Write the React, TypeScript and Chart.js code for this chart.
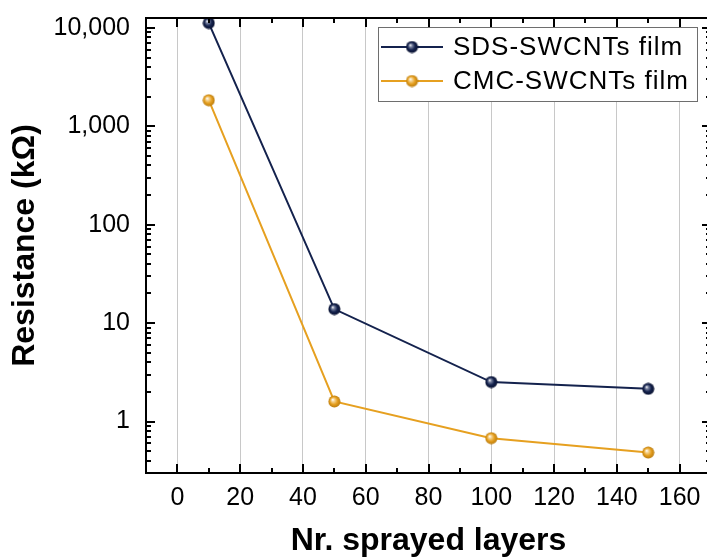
import React, { useEffect, useRef } from "react";
import { Chart, registerables } from "chart.js";

Chart.register(...registerables);

const layers = [10, 50, 100, 150];
const sdsResistance = [11200, 13.9, 2.52, 2.15];
const cmcResistance = [1840, 1.6, 0.678, 0.484];
const seriesLabels = ["SDS-SWCNTs film", "CMC-SWCNTs film"];
const seriesColors = ["#14224d", "#e6a020"];
const xTickValues = [0, 20, 40, 60, 80, 100, 120, 140, 160];
const xMinorValues = [10, 30, 50, 70, 90, 110, 130, 150];
const yTickValues = [1, 10, 100, 1000, 10000];
const xTitle = "Nr. sprayed layers";
const yTitle = "Resistance (k\u03A9)";

const FONT = "'Liberation Sans', Arial, sans-serif";

function makeSphere(base: string, light: string, dark: string): HTMLCanvasElement {
  const size = 13;
  const c = document.createElement("canvas");
  c.width = size;
  c.height = size;
  const ctx = c.getContext("2d")!;
  const cx = size / 2;
  const cy = size / 2;
  const g = ctx.createRadialGradient(cx - 1.7, cy - 1.9, 0.2, cx, cy, 6.1);
  g.addColorStop(0, "#ffffff");
  g.addColorStop(0.22, light);
  g.addColorStop(0.6, base);
  g.addColorStop(1, dark);
  ctx.fillStyle = g;
  ctx.beginPath();
  ctx.arc(cx, cy, 6, 0, Math.PI * 2);
  ctx.fill();
  return c;
}

export default function App() {
  const ref = useRef<HTMLCanvasElement | null>(null);

  useEffect(() => {
    const canvas = ref.current!;
    const spheres = [
      makeSphere("#14224d", "#7d86a3", "#0a1230"),
      makeSphere("#e6a020", "#f6d79a", "#b97a0c"),
    ];

    const framePlugin = {
      id: "frame",
      afterDraw(chart: any) {
        const { ctx, chartArea: a, scales } = chart;
        const xs = scales.x;
        const ys = scales.y;
        ctx.save();
        ctx.strokeStyle = "#000";
        ctx.lineWidth = 2;
        ctx.lineCap = "butt";
        ctx.strokeRect(a.left, a.top, a.right - a.left, a.bottom - a.top);
        const tickLine = (x1: number, y1: number, x2: number, y2: number) => {
          ctx.beginPath();
          ctx.moveTo(x1, y1);
          ctx.lineTo(x2, y2);
          ctx.stroke();
        };
        const major = 9;
        const minor = 5;
        xTickValues.forEach((v) => {
          const px = Math.round(xs.getPixelForValue(v));
          tickLine(px, a.bottom, px, a.bottom - major);
          tickLine(px, a.top, px, a.top + major);
        });
        xMinorValues.forEach((v) => {
          const px = Math.round(xs.getPixelForValue(v));
          tickLine(px, a.bottom, px, a.bottom - minor);
          tickLine(px, a.top, px, a.top + minor);
        });
        yTickValues.forEach((v) => {
          const py = Math.round(ys.getPixelForValue(v));
          tickLine(a.left, py, a.left + major, py);
          tickLine(a.right, py, a.right - major, py);
        });
        for (let d = -1; d <= 4; d++) {
          for (let k = 2; k <= 9; k++) {
            const v = k * Math.pow(10, d);
            if (v <= ys.min || v >= ys.max) continue;
            const py = Math.round(ys.getPixelForValue(v));
            tickLine(a.left, py, a.left + minor, py);
            tickLine(a.right, py, a.right - minor, py);
          }
        }

        // legend
        const lx = 378, ly = 27, lw = 319, lh = 74;
        ctx.fillStyle = "#ffffff";
        ctx.fillRect(lx, ly, lw, lh);
        ctx.strokeStyle = "#6e6e6e";
        ctx.lineWidth = 1;
        ctx.strokeRect(lx + 0.5, ly + 0.5, lw, lh);
        const rows = [47, 81];
        chart.data.datasets.forEach((ds: any, i: number) => {
          const ry = rows[i];
          ctx.strokeStyle = ds.borderColor;
          ctx.lineWidth = 2;
          tickLine(381, ry, 443, ry);
          ctx.drawImage(spheres[i], 412 - 6.5, ry - 6.5);
          ctx.fillStyle = "#000";
          ctx.font = `26px ${FONT}`;
          (ctx as any).letterSpacing = "1px";
          ctx.textBaseline = "middle";
          ctx.textAlign = "left";
          ctx.fillText(ds.label, 453, ry + 1);
          (ctx as any).letterSpacing = "0px";
        });
        ctx.restore();
      },
    };

    const chart = new Chart(canvas, {
      type: "line",
      data: {
        datasets: [
          {
            label: seriesLabels[0],
            data: layers.map((x, i) => ({ x, y: sdsResistance[i] })),
            borderColor: seriesColors[0],
            backgroundColor: seriesColors[0],
            borderWidth: 2,
            pointStyle: spheres[0],
            pointRadius: 6,
            tension: 0,
          },
          {
            label: seriesLabels[1],
            data: layers.map((x, i) => ({ x, y: cmcResistance[i] })),
            borderColor: seriesColors[1],
            backgroundColor: seriesColors[1],
            borderWidth: 2,
            pointStyle: spheres[1],
            pointRadius: 6,
            tension: 0,
          },
        ],
      },
      options: {
        animation: false,
        responsive: false,
        devicePixelRatio: 1,
        layout: { padding: { left: 0, right: 9, top: 18, bottom: 0 } },
        plugins: {
          legend: { display: false },
          tooltip: { enabled: false },
        },
        scales: {
          x: {
            type: "linear",
            min: -10,
            max: 170,
            afterBuildTicks: (s: any) => {
              s.ticks = xTickValues.map((v) => ({ value: v }));
            },
            afterFit: (s: any) => {
              s.height = 87;
              s.paddingLeft = 0;
              s.paddingRight = 0;
              s.paddingTop = 0;
              s.paddingBottom = 0;
            },
            grid: { display: true, color: "#c8c8c8", lineWidth: 1, drawTicks: false },
            border: { display: false },
            ticks: {
              color: "#000",
              padding: 10,
              font: { family: FONT, size: 25 },
              maxRotation: 0,
            },
            title: {
              display: true,
              text: xTitle,
              color: "#000",
              font: { family: FONT, size: 32, weight: "bold" },
              padding: { top: 0, bottom: 0 },
            },
          },
          y: {
            type: "logarithmic",
            min: 0.3,
            max: 12600,
            afterBuildTicks: (s: any) => {
              s.ticks = yTickValues.map((v) => ({ value: v }));
            },
            afterFit: (s: any) => {
              s.width = 146;
              s.paddingLeft = 0;
              s.paddingRight = 0;
              s.paddingTop = 0;
              s.paddingBottom = 0;
            },
            grid: { display: false, drawTicks: false },
            border: { display: false },
            ticks: {
              color: "#000",
              padding: 16,
              font: { family: FONT, size: 25 },
              callback: (v: any) => Number(v).toLocaleString("en-US"),
            },
            title: {
              display: true,
              text: yTitle,
              color: "#000",
              font: { family: FONT, size: 32, weight: "bold" },
              padding: { top: 6, bottom: 0 },
            },
          },
        },
      },
      plugins: [framePlugin],
    } as any);

    return () => chart.destroy();
  }, []);

  return (
    <div
      style={{
        position: "fixed",
        left: 0,
        top: 0,
        width: 707,
        height: 560,
        overflow: "hidden",
        background: "#ffffff",
      }}
    >
      <canvas ref={ref} width={720} height={560} style={{ display: "block", width: 720, height: 560 }} />
    </div>
  );
}
